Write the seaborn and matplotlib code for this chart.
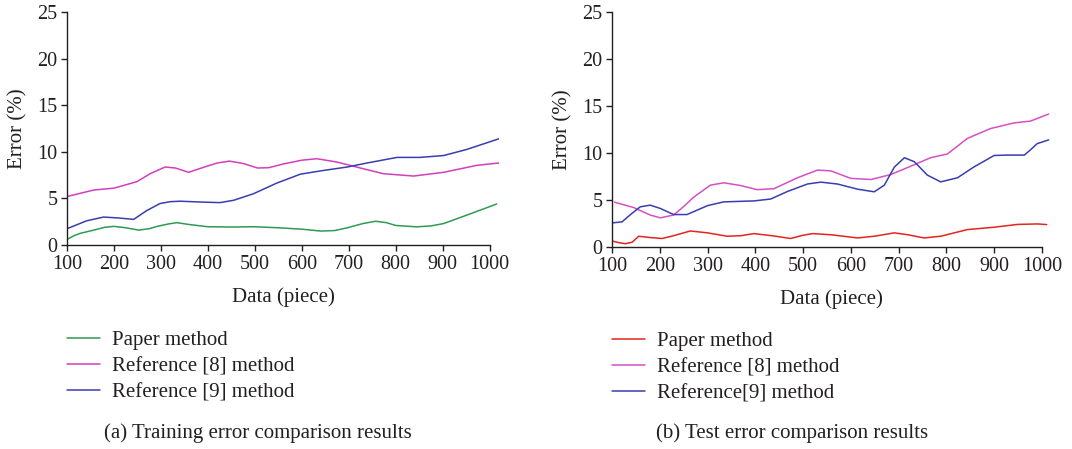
import pandas as pd
import numpy as np
import matplotlib
matplotlib.use("Agg")
import matplotlib.pyplot as plt
import seaborn as sns

sns.set_style("ticks")
plt.rcParams['font.family'] = ['Liberation Serif', 'DejaVu Serif']

# ---- data ----
# (a) training error
train_paper_x = [100, 115, 128, 157, 180, 200, 225, 253, 275, 292, 315, 334, 360, 400, 450, 500, 550, 600, 640, 670, 697, 730, 757, 780, 800, 845, 875, 902, 951, 1015]
train_paper_y = [0.6, 1.0, 1.25, 1.6, 1.9, 2.0, 1.85, 1.6, 1.75, 2.0, 2.25, 2.4, 2.2, 1.96, 1.93, 1.96, 1.85, 1.7, 1.5, 1.55, 1.85, 2.3, 2.55, 2.4, 2.1, 1.95, 2.05, 2.3, 3.2, 4.4]

train_ref8_x = [100, 157, 200, 249, 277, 309, 331, 359, 393, 420, 446, 475, 506, 530, 561, 600, 632, 675, 725, 774, 838, 902, 973, 1020]
train_ref8_y = [5.2, 5.9, 6.1, 6.8, 7.65, 8.37, 8.26, 7.8, 8.37, 8.8, 9.0, 8.75, 8.26, 8.3, 8.7, 9.1, 9.26, 8.9, 8.26, 7.65, 7.4, 7.8, 8.55, 8.8]

train_ref9_x = [100, 142, 178, 210, 242, 270, 298, 320, 341, 391, 426, 455, 497, 547, 597, 646, 697, 739, 803, 852, 902, 951, 1020]
train_ref9_y = [1.75, 2.6, 3.0, 2.9, 2.75, 3.7, 4.45, 4.65, 4.7, 4.6, 4.55, 4.8, 5.5, 6.65, 7.6, 8.0, 8.37, 8.8, 9.4, 9.4, 9.6, 10.25, 11.4]

# (b) test error
test_paper_x = [100, 115, 128, 142, 156, 180, 205, 229, 264, 300, 341, 370, 397, 439, 474, 500, 520, 558, 614, 649, 691, 719, 753, 788, 844, 900, 949, 991, 1010]
test_paper_y = [0.64, 0.45, 0.35, 0.5, 1.14, 1.0, 0.9, 1.2, 1.7, 1.5, 1.14, 1.2, 1.42, 1.17, 0.9, 1.25, 1.42, 1.3, 0.96, 1.14, 1.5, 1.3, 0.96, 1.14, 1.85, 2.1, 2.4, 2.45, 2.38]

test_ref8_x = [105, 145, 180, 201, 229, 250, 271, 306, 334, 369, 404, 439, 488, 530, 558, 600, 642, 683, 719, 767, 802, 844, 892, 941, 976, 1014]
test_ref8_y = [4.77, 4.2, 3.4, 3.1, 3.4, 4.3, 5.3, 6.58, 6.83, 6.54, 6.1, 6.2, 7.36, 8.18, 8.1, 7.3, 7.18, 7.7, 8.46, 9.5, 9.9, 11.56, 12.6, 13.2, 13.4, 14.15]

test_ref9_x = [100, 121, 140, 159, 180, 201, 229, 257, 300, 334, 397, 432, 467, 509, 537, 572, 614, 649, 670, 691, 712, 733, 760, 788, 823, 858, 900, 928, 963, 975, 990, 1014]
test_ref9_y = [2.56, 2.67, 3.5, 4.27, 4.45, 4.1, 3.45, 3.45, 4.4, 4.8, 4.9, 5.1, 5.9, 6.7, 6.9, 6.7, 6.15, 5.87, 6.58, 8.5, 9.5, 9.07, 7.65, 6.93, 7.36, 8.53, 9.74, 9.78, 9.78, 10.3, 11.0, 11.4]


def long_df(series):
    frames = []
    for name, xs, ys in series:
        frames.append(pd.DataFrame({'Data': xs, 'Error': ys, 'Method': name}))
    return pd.concat(frames, ignore_index=True)


train_df = long_df([
    ("Paper method", train_paper_x, train_paper_y),
    ("Reference [8] method", train_ref8_x, train_ref8_y),
    ("Reference [9] method", train_ref9_x, train_ref9_y),
])
test_df = long_df([
    ("Paper method", test_paper_x, test_paper_y),
    ("Reference [8] method", test_ref8_x, test_ref8_y),
    ("Reference[9] method", test_ref9_x, test_ref9_y),
])

train_pal = {"Paper method": "#2f9a55", "Reference [8] method": "#d23fbd", "Reference [9] method": "#3a3db0"}
test_pal = {"Paper method": "#e0261f", "Reference [8] method": "#d64fc4", "Reference[9] method": "#3a3db0"}

text_col = "#231f20"
fig = plt.figure(figsize=(10.72, 4.49), dpi=100)
ax1 = fig.add_axes([0.0625, 0.4543, 0.403, 0.519])
ax2 = fig.add_axes([0.5709, 0.450, 0.410, 0.523])

panels = [
    (ax1, train_df, train_pal, (0.0625, 0.264), 0.241, "(a) Training error comparison results"),
    (ax2, test_df, test_pal, (0.5709, 0.262), 0.739, "(b) Test error comparison results"),
]

for ax, df, pal, leg_pos, cap_x, caption in panels:
    sns.lineplot(data=df, x='Data', y='Error', hue='Method', palette=pal,
                 linewidth=1.1, ax=ax, sort=False, estimator=None)
    ax.set_xlim(100, 1020)
    ax.set_ylim(0, 25)
    ax.set_xticks(range(100, 1001, 100))
    ax.set_yticks(range(0, 26, 5))
    ax.spines['bottom'].set_bounds(100, 1000)
    ax.spines['left'].set_bounds(0, 25)
    sns.despine(ax=ax)
    for sp in ax.spines.values():
        sp.set_color(text_col)
        sp.set_linewidth(1.0)
    ax.tick_params(axis='both', direction='out', length=4, width=1.0,
                   color=text_col, labelcolor=text_col, labelsize=14.5, pad=3)
    ax.set_xlabel("Data (piece)", fontsize=15, color=text_col, labelpad=10)
    ax.set_ylabel("Error (%)", fontsize=15, color=text_col, labelpad=7)
    sns.move_legend(ax, 'upper left', bbox_to_anchor=leg_pos,
                    bbox_transform=fig.transFigure, frameon=False, title=None,
                    fontsize=15, handlelength=1.6, handletextpad=0.55,
                    labelspacing=0.32, borderpad=0, borderaxespad=0)
    for t in ax.get_legend().get_texts():
        t.set_color(text_col)
    fig.text(cap_x, 0.035, caption, ha='center', va='center',
             fontsize=15, color=text_col)

fig.savefig("out.png", dpi=100)
